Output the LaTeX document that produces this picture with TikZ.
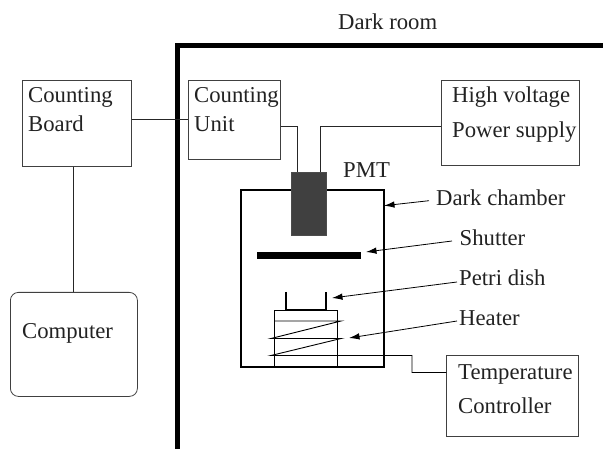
\documentclass[tikz,border=0pt]{standalone}
\usepackage{fontspec}
\setmainfont{Liberation Serif}
\definecolor{inkc}{HTML}{222222}
\usetikzlibrary{arrows.meta}
\tikzset{
  x=1pt,y=-1pt,
  boxn/.style={draw=black!75,line width=0.8pt,inner sep=0pt,anchor=north west},
  lab/.style={font=\fontsize{22.7}{24}\selectfont,text=inkc,inner sep=0pt,anchor=base west},
  wire/.style={draw=black!85,line width=0.8pt},
  coil/.style={draw=black,line width=0.9pt},
  callout/.style={draw=black,line width=0.8pt,-{Latex[length=10.5pt,width=6.5pt]}},
}
\begin{document}
\begin{tikzpicture}
\useasboundingbox (0,0) rectangle (603,449);
% dark room wall
\coordinate (wallA) at (177.5,449);
\coordinate (wallB) at (177.5,45.7);
\coordinate (wallC) at (603,45.7);
\draw[line width=4.8pt,line join=miter] (wallA) -- (wallB) -- (wallC);
% boxes
\node[boxn,minimum width=109pt,minimum height=86pt] (cb) at (22,80) {};
\node[boxn,minimum width=92pt,minimum height=79pt] (cu) at (188,80) {};
\node[boxn,minimum width=138pt,minimum height=85pt] (hv) at (440.5,80) {};
\node[boxn,rounded corners=8pt,minimum width=127pt,minimum height=104pt] (pc) at (10,292) {};
\node[boxn,minimum width=132pt,minimum height=81pt] (tc) at (446.3,355) {};
% chamber and contents
\node[draw=black,line width=1.7pt,inner sep=0pt,anchor=north west,minimum width=143pt,minimum height=177.5pt] (dc) at (240,189) {};
\node[draw=black!70,fill=black!75,line width=0.6pt,inner sep=0pt,anchor=north west,minimum width=35pt,minimum height=63pt] (pmt) at (291,172) {};
\node[fill=black,inner sep=0pt,anchor=north west,minimum width=104pt,minimum height=7pt] (sh) at (257,252) {};
\node[draw=black,line width=0.8pt,inner sep=0pt,anchor=north west,minimum width=63pt,minimum height=56.5pt] (ht) at (274,310) {};
% petri dish
\coordinate (pa) at (286,292);
\coordinate (pb) at (286,310);
\coordinate (pc2) at (326,310);
\coordinate (pd) at (326,292);
\draw[line width=1.3pt] (pa) -- (pb) -- (pc2) -- (pd);
% heater coil
\coordinate (c1) at (274,321);
\coordinate (c2) at (341,321);
\coordinate (c3) at (271,338.5);
\coordinate (c4) at (341,338.5);
\coordinate (c5) at (271,355.5);
\coordinate (c6) at (412,355.5);
\coordinate (c7) at (412,372.5);
\draw[coil] (c1) -- (c2) -- (c3) -- (c4) -- (c5) -- (c6) -- (c7) -- (tc.west |- c7);
% connectors
\draw[wire] (cb.east |- cu.west) -- (cu.west);
\coordinate (pcin) at (73.5,230);
\draw[wire] (cb.south -| pcin) -- (pc.north -| pcin);
\coordinate (cuout) at (297.5,126);
\coordinate (hvout) at (320,126);
\draw[wire] (cu.east |- cuout) -- (cuout) -- (pmt.north -| cuout);
\draw[wire] (hv.west |- hvout) -- (hvout) -- (pmt.north -| hvout);
% labels
\node[lab] (t1) at (338,29.5) {Dark room};
\node[lab] (t2) at (28,103) {Counting};
\node[lab] (t3) at (28,132) {Board};
\node[lab] (t4) at (194,103) {Counting};
\node[lab] (t5) at (194,132) {Unit};
\node[lab] (t6) at (452,103) {High voltage};
\node[lab] (t7) at (452,138) {Power supply};
\node[lab] (t8) at (22,339) {Computer};
\node[lab] (t9) at (343,177.5) {PMT};
\node[lab] (t10) at (436,206) {Dark chamber};
\node[lab] (t11) at (459.5,246) {Shutter};
\node[lab] (t12) at (459,286) {Petri dish};
\node[lab] (t13) at (459,326) {Heater};
\node[lab] (t14) at (458,379) {Temperature};
\node[lab] (t15) at (458,413) {Controller};
% callouts
\coordinate (a1) at (429,200.7); \coordinate (b1) at (384,205.7);
\coordinate (a2) at (452,241); \coordinate (b2) at (366,252);
\coordinate (a3) at (457,282); \coordinate (b3) at (332,298);
\coordinate (a4) at (457,321); \coordinate (b4) at (349,338);
\draw[callout] (a1) -- (b1);
\draw[callout] (a2) -- (b2);
\draw[callout] (a3) -- (b3);
\draw[callout] (a4) -- (b4);
\end{tikzpicture}
\end{document}
